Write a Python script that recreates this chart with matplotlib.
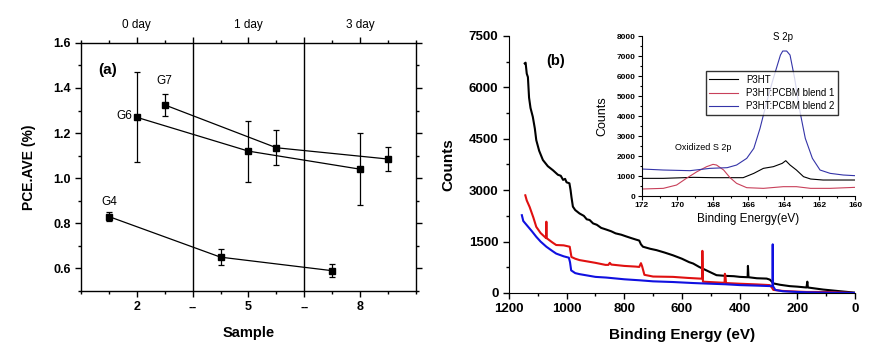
import numpy as np
import matplotlib
matplotlib.use('Agg')
import matplotlib.pyplot as plt
from matplotlib.ticker import MultipleLocator

plt.rcParams['font.family'] = ['Liberation Sans', 'DejaVu Sans']

# ---- panel (a): PCE vs sample ----
tick_pos = [1, 2, 3, 4, 5]
tick_labels = ['2', '--', '5', '--', '8']
day_labels = ['0 day', '1 day', '3 day']
day_pos = [1, 3, 5]

g4_x = [0.5, 2.5, 4.5]
g4_y = [0.83, 0.65, 0.59]
g4_err = [0.02, 0.035, 0.03]

g6_x = [1.0, 3.0, 5.0]
g6_y = [1.27, 1.12, 1.04]
g6_err = [0.20, 0.135, 0.16]

g7_x = [1.5, 3.5, 5.5]
g7_y = [1.325, 1.135, 1.085]
g7_err = [0.05, 0.077, 0.055]

# ---- panel (b): XPS survey (eV, counts) ----
p3ht_ev = [1145, 1142, 1138, 1134, 1130, 1125, 1117, 1110, 1105, 1095, 1082, 1065,
           1047, 1030, 1020, 1012, 1005, 1000, 990, 986, 983, 978, 970, 955, 940, 930,
           920, 908, 895, 880, 862, 845, 830, 810, 793, 775, 760, 748, 742, 735, 710,
           688, 660, 631, 600, 575, 561, 540, 515, 495, 480, 450, 420, 399, 372, 371,
           369, 340, 306, 295, 288, 283, 260, 226, 200, 168, 165, 163, 110, 50, 0]
p3ht_cnt = [6700, 6720, 6400, 6300, 5700, 5400, 5140, 4800, 4460, 4150, 3880, 3700,
            3580, 3450, 3420, 3300, 3330, 3230, 3200, 3000, 2800, 2520, 2420, 2320, 2250, 2150,
            2130, 2030, 1990, 1900, 1850, 1800, 1740, 1700, 1650, 1600, 1560, 1530, 1420, 1350, 1290,
            1250, 1180, 1100, 1000, 900, 860, 760, 660, 580, 520, 500, 490, 470, 460, 790,
            460, 430, 420, 390, 330, 280, 240, 200, 185, 160, 330, 160, 100, 50, 10]

blend1_ev = [1143, 1138, 1128, 1115, 1105, 1090, 1071, 1070, 1069, 1050, 1036, 1010,
             989, 986, 983, 970, 955, 900, 865, 855, 850, 845, 800, 760, 748, 742,
             738, 730, 700, 631, 580, 538, 530, 529, 527, 460, 452, 451, 449, 447,
             399, 340, 295, 288, 283, 250, 200, 168, 100, 0]
blend1_cnt = [2850, 2700, 2510, 2200, 1930, 1750, 1600, 2080, 1600, 1480, 1400, 1390,
              1350, 1200, 1050, 1000, 960, 880, 820, 820, 880, 830, 790, 770, 760, 870,
              780, 530, 480, 470, 440, 420, 420, 1230, 330, 300, 300, 560, 500, 290,
              270, 250, 230, 160, 90, 60, 40, 30, 30, 0]

blend2_ev = [1155, 1150, 1140, 1120, 1105, 1090, 1070, 1050, 1036, 1010, 992, 988,
             984, 970, 955, 900, 862, 800, 746, 700, 631, 560, 515, 450, 399, 340,
             290, 286, 285, 284, 276, 250, 200, 168, 100, 0]
blend2_cnt = [2270, 2100, 2000, 1800, 1640, 1500, 1350, 1230, 1150, 1070, 1030, 900,
              660, 580, 550, 470, 450, 400, 370, 340, 320, 290, 275, 255, 230, 215,
              200, 200, 1420, 200, 90, 50, 30, 20, 10, 0]

# ---- inset: S 2p region ----
in_p3ht_ev = [172, 170.8, 169.1, 168.0, 166.3, 165.7, 165.16, 164.6, 164.1, 163.9,
              163.66, 163.3, 162.9, 162.5, 161.8, 160]
in_p3ht_cnt = [883, 883, 933, 917, 917, 1133, 1383, 1467, 1633, 1767,
               1550, 1300, 967, 850, 800, 800]
in_b1_ev = [172, 170.8, 170.05, 169.5, 168.9, 168.36, 168.0, 167.8, 167.4, 167.04,
            166.67, 166.1, 165.16, 164.04, 163.3, 162.5, 161.4, 160]
in_b1_cnt = [350, 383, 550, 883, 1217, 1467, 1583, 1550, 1300, 917,
             633, 417, 383, 467, 467, 383, 383, 433]
in_b2_ev = [172, 170.8, 169.3, 168.17, 167.2, 166.67, 166.1, 165.7, 165.35, 164.97,
            164.6, 164.2, 164.07, 163.85, 163.66, 163.4, 163.1, 162.8, 162.4, 161.97,
            161.4, 160.66, 160]
in_b2_cnt = [1350, 1300, 1267, 1383, 1417, 1550, 1883, 2383, 3383, 4717,
             5883, 7050, 7250, 7250, 7050, 5883, 4217, 2883, 1883, 1300,
             1133, 1050, 1017]

fig = plt.figure(figsize=(8.85, 3.56), dpi=100)

# panel (a)
ax = fig.add_axes([0.0915, 0.1826, 0.3785, 0.697])
for gx, gy, ge in [(g4_x, g4_y, g4_err), (g6_x, g6_y, g6_err), (g7_x, g7_y, g7_err)]:
    ax.errorbar(gx, gy, yerr=ge, color='black', lw=0.9, marker='s', ms=4.5,
                capsize=2.5, elinewidth=0.9, capthick=0.9)
for xv in [2, 4]:
    ax.axvline(xv, color='black', lw=1)
ax.set_xlim(0, 6)
ax.set_ylim(0.5, 1.6)
ax.set_xticks(tick_pos)
ax.set_xticklabels(tick_labels)
ax.xaxis.set_minor_locator(MultipleLocator(0.5))
ax.yaxis.set_major_locator(MultipleLocator(0.2))
ax.yaxis.set_minor_locator(MultipleLocator(0.1))
ax.tick_params(which='both', direction='out', top=True, right=True, width=1)
ax.tick_params(which='major', length=4, labelsize=9)
ax.tick_params(which='minor', length=2.5)
for lab in ax.get_xticklabels() + ax.get_yticklabels():
    lab.set_fontweight('bold')
ax.set_xlabel('Sample', fontsize=10.5, fontweight='bold', labelpad=9)
ax.set_ylabel('PCE.AVE (%)', fontsize=10, fontweight='bold', labelpad=12)
for sp in ax.spines.values():
    sp.set_linewidth(1)
for dl, dp in zip(day_labels, day_pos):
    ax.text(dp, 1.68, dl, ha='center', va='center', fontsize=8.5)
ax.text(0.48, 1.48, '(a)', ha='center', va='center', fontsize=11, fontweight='bold')
ax.text(1.5, 1.43, 'G7', ha='center', va='center', fontsize=8.5)
ax.text(0.78, 1.275, 'G6', ha='center', va='center', fontsize=8.5)
ax.text(0.5, 0.895, 'G4', ha='center', va='center', fontsize=8.5)

# panel (b)
bx = fig.add_axes([0.575, 0.177, 0.391, 0.722])
bx.plot(p3ht_ev, p3ht_cnt, color='black', lw=1.5)
bx.plot(blend1_ev, blend1_cnt, color='#e01010', lw=1.5)
bx.plot(blend2_ev, blend2_cnt, color='#1010e0', lw=1.5)
bx.set_xlim(1200, 0)
bx.set_ylim(0, 7500)
bx.xaxis.set_major_locator(MultipleLocator(200))
bx.xaxis.set_minor_locator(MultipleLocator(100))
bx.yaxis.set_major_locator(MultipleLocator(1500))
bx.yaxis.set_minor_locator(MultipleLocator(750))
bx.spines['top'].set_visible(False)
bx.spines['right'].set_visible(False)
bx.tick_params(which='both', direction='out', width=1)
bx.tick_params(which='major', length=4, labelsize=9.5)
bx.tick_params(which='minor', length=2.5)
for lab in bx.get_xticklabels() + bx.get_yticklabels():
    lab.set_fontweight('bold')
bx.set_xlabel('Binding Energy (eV)', fontsize=11, fontweight='bold', labelpad=9)
bx.set_ylabel('Counts', fontsize=11, fontweight='bold', labelpad=10)
bx.text(1037, 6770, '(b)', ha='center', va='center', fontsize=10.5, fontweight='bold')

# inset
ix = fig.add_axes([0.7254, 0.4494, 0.2407, 0.4494])
ix.plot(in_p3ht_ev, in_p3ht_cnt, color='black', lw=0.8, label='P3HT')
ix.plot(in_b1_ev, in_b1_cnt, color='#c8405a', lw=0.8, label='P3HT:PCBM blend 1')
ix.plot(in_b2_ev, in_b2_cnt, color='#3434a8', lw=0.8, label='P3HT:PCBM blend 2')
ix.set_xlim(172, 160)
ix.set_ylim(0, 8000)
ix.xaxis.set_major_locator(MultipleLocator(2))
ix.xaxis.set_minor_locator(MultipleLocator(1))
ix.yaxis.set_major_locator(MultipleLocator(1000))
ix.yaxis.set_minor_locator(MultipleLocator(500))
ix.spines['top'].set_visible(False)
ix.spines['right'].set_visible(False)
ix.patch.set_alpha(0)
ix.tick_params(which='both', direction='out', width=0.8)
ix.tick_params(which='major', length=3, labelsize=6, pad=1.5)
ix.tick_params(which='minor', length=1.5)
for lab in ix.get_xticklabels() + ix.get_yticklabels():
    lab.set_fontweight('bold')
ix.set_xlabel('Binding Energy(eV)', fontsize=8.5, labelpad=3)
ix.set_ylabel('Counts', fontsize=9, labelpad=6)
ix.text(164.05, 7950, 'S 2p', ha='center', va='center', fontsize=7)
ix.text(168.56, 2450, 'Oxidized S 2p', ha='center', va='center', fontsize=6.5)
leg = ix.legend(loc='upper left', bbox_to_anchor=(0.30, 0.78), fontsize=7,
                frameon=True, fancybox=False, borderpad=0.35, labelspacing=0.35,
                handlelength=3, borderaxespad=0)
leg.get_frame().set_edgecolor('black')
leg.get_frame().set_linewidth(1)

fig.savefig('out.png', dpi=100)
